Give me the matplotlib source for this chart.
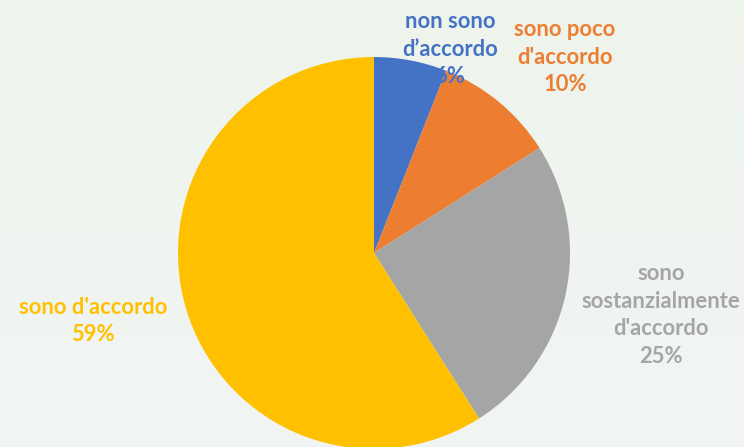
import numpy as np
import matplotlib
matplotlib.use("Agg")
import matplotlib.pyplot as plt

categories = ["non sono\nd\u2019accordo", "sono poco\nd'accordo",
              "sono\nsostanzialmente\nd'accordo", "sono d'accordo"]
values = [6, 10, 25, 59]
colors = ["#4472C4", "#ED7D31", "#A5A5A5", "#FFC000"]

# label anchor positions (pixels from top-left)
label_pos = [(450, 49), (565, 57), (661, 315), (93, 321)]

W, H = 744, 447
fig = plt.figure(figsize=(W / 100, H / 100), dpi=100)
ax = fig.add_axes([0, 0, 1, 1])

# soft background gradient
top = np.array([0.933, 0.957, 0.925])
bot = np.array([0.945, 0.961, 0.957])
t = np.linspace(0, 1, 100)[:, None]
grad = (top * (1 - t) + bot * t)[:, None, :]
ax.imshow(grad, extent=[0, W, 0, H], aspect="auto", zorder=0)

ax.pie(values, colors=colors, startangle=90, counterclock=False,
       center=(374, H - 253), radius=196, frame=True,
       wedgeprops=dict(linewidth=0))
ax.set_xlim(0, W)
ax.set_ylim(0, H)
ax.axis("off")

for cat, v, c, (x, y) in zip(categories, values, colors, label_pos):
    ax.text(x, H - y, f"{cat}\n{v}%", color=c, ha="center", va="center",
            fontsize=15.8, family="Lato", fontweight="bold",
            linespacing=1.38, zorder=5)

fig.savefig("out.png", dpi=100)
